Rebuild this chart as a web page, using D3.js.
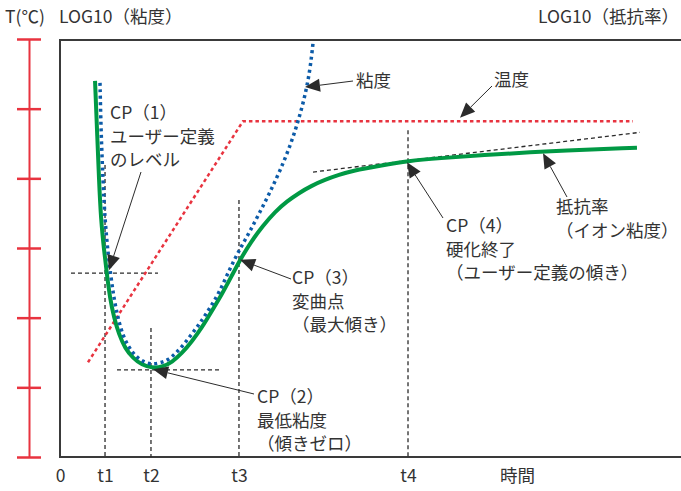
<!DOCTYPE html>
<html>
<head>
<meta charset="utf-8">
<script src="https://cdn.jsdelivr.net/npm/d3@7"></script>
<style>
  body { margin: 0; background: #fff; }
  svg { display: block; font-family: "Noto Sans CJK JP", "Noto Sans", sans-serif; }
</style>
</head>
<body>
<svg id="chart" width="681" height="491"></svg>
<script>
/* eslint-env browser */

// time axis (arbitrary units, 0..100 across the plot)
const timeTicks = [0, 7.25, 14.65, 28.82, 56.04, 73.6];
const timeLabels = ['0', 't1', 't2', 't3', 't4', '時間'];
// temperature / log scale ticks on the red axis
const levelTicks = [0, 1, 2, 3, 4, 5, 6];

// 抵抗率 (ion viscosity) - green solid
const resistT = [5.64, 5.96, 6.28, 6.6, 7.09, 7.57, 8.05, 8.7, 9.5, 10.47, 11.76, 13.2, 14.81,
  16.43, 18.04, 19.65, 21.26, 22.87, 24.48, 26.09, 27.54, 28.99, 30.76, 32.69, 34.62, 36.55,
  38.49, 40.42, 42.67, 44.93, 47.18, 51.53, 56.04, 61.19, 67.63, 78.42, 92.91];
const resistV = [5.4, 4.7, 3.98, 3.4, 2.97, 2.61, 2.28, 2.0, 1.76, 1.56, 1.42, 1.32, 1.28,
  1.29, 1.36, 1.49, 1.66, 1.86, 2.1, 2.34, 2.58, 2.83, 3.09, 3.32, 3.52, 3.67,
  3.79, 3.89, 3.98, 4.05, 4.11, 4.18, 4.25, 4.29, 4.33, 4.39, 4.44];

// 粘度 (viscosity) - blue dotted
const viscT = [6.44, 6.6, 6.92, 7.25, 7.73, 8.21, 8.7, 9.34, 10.14, 11.11, 12.24, 13.53, 14.81,
  16.1, 17.39, 18.68, 19.97, 21.26, 22.54, 24.15, 25.76, 27.38, 28.99, 30.6, 32.21, 33.82,
  35.43, 37.04, 38.33, 39.45, 40.26, 40.74];
const viscV = [5.37, 4.69, 3.97, 3.39, 2.93, 2.58, 2.27, 1.99, 1.74, 1.57, 1.44, 1.36, 1.33,
  1.35, 1.39, 1.49, 1.62, 1.77, 1.92, 2.14, 2.38, 2.71, 2.99, 3.24, 3.52, 3.8,
  4.11, 4.46, 4.81, 5.18, 5.55, 5.94];

// 温度 (temperature) - red dotted
const tempT = [4.51, 29.47, 92.27];
const tempV = [1.36, 4.82, 4.82];

// guide lines: [t0, v0, t1, v1]
const guides = [
  [1.77, 2.64, 15.78, 2.64],    // CP1 level
  [7.25, 4.19, 7.25, 0],        // t1
  [14.65, 1.85, 14.65, 0],      // t2
  [9.18, 1.25, 25.76, 1.25],    // CP2 level
  [28.82, 3.69, 28.82, 0],      // t3
  [56.04, 4.69, 56.04, 0],      // t4
  [40.74, 4.09, 93.4, 4.66]     // user-defined slope
];

// annotation texts and arrow tips (data units)
const noteTexts = [
  ['粘度'],
  ['温度'],
  ['CP（1）', 'ユーザー定義', 'のレベル'],
  ['CP（2）', '最低粘度', '（傾きゼロ）'],
  ['CP（3）', '変曲点', '（最大傾き）'],
  ['CP（4）', '硬化終了', '（ユーザー定義の傾き）'],
  ['抵抗率', '（イオン粘度）']
];
const noteTipT = [39.45, 64.41, 7.89, 14.98, 28.99, 55.88, 77.78];
const noteTipV = [5.31, 4.87, 2.68, 1.26, 2.83, 4.23, 4.36];

// label layout (pixels): text anchor and arrow tail
const noteLayout = [
  { tx: 356, ty: 87, ax: 353, ay: 81 },
  { tx: 494, ty: 86, ax: 492, ay: 86 },
  { tx: 110, ty: 119, ax: 141, ay: 172 },
  { tx: 257, ty: 403, ax: 254, ay: 394 },
  { tx: 292, ty: 284, ax: 291, ay: 279 },
  { tx: 446, ty: 232, ax: 443, ay: 218 },
  { tx: 556, ty: 213, ax: 567, ay: 197 }
];

const cs = {
  palette: {
    red: '#e8333f',
    green: '#009944',
    blue: '#0c5ba8',
    frame: '#3a3a3a',
    ink: '#2b2b2b',
    text: '#333333'
  },
  font: 17.5,
  headFont: 17.5,
  lineH: 23.5
};

const svg = d3.select('#chart');
const x = d3.scaleLinear().domain([0, 100]).range([60, 681]);
const y = d3.scaleLinear().domain([0, 6]).range([457, 39]);

const zip = (ts, vs) => ts.map((t, i) => [t, vs[i]]);
const line = d3.line().x(d => x(d[0])).y(d => y(d[1])).curve(d3.curveBasis);
const straight = d3.line().x(d => x(d[0])).y(d => y(d[1]));

// header texts
svg.append('text').attr('x', 5).attr('y', 23)
  .attr('font-size', cs.headFont).attr('fill', cs.palette.text)
  .text('T(℃)');
svg.append('text').attr('x', 59).attr('y', 23)
  .attr('font-size', cs.headFont).attr('fill', cs.palette.text)
  .text('LOG10（粘度）');
svg.append('text').attr('x', 679).attr('y', 23).attr('text-anchor', 'end')
  .attr('font-size', cs.headFont).attr('fill', cs.palette.text)
  .text('LOG10（抵抗率）');

// red temperature axis
const redAxis = svg.append('g').attr('transform', 'translate(29,0)')
  .call(d3.axisLeft(y).tickValues(levelTicks).tickSizeOuter(0).tickFormat(''));
redAxis.select('.domain').attr('stroke', cs.palette.red).attr('stroke-width', 2);
redAxis.selectAll('.tick line').attr('x1', -12).attr('x2', 12)
  .attr('stroke', cs.palette.red).attr('stroke-width', 2.5);

// frame (top, left, bottom)
svg.append('path')
  .attr('d', `M${x(100)},${y(6) + 1}H${x(0)}V${y(0)}H${x(100)}`)
  .attr('fill', 'none').attr('stroke', cs.palette.frame).attr('stroke-width', 2);

// time axis labels
const timeAxis = svg.append('g').attr('transform', `translate(0,${y(0)})`)
  .call(d3.axisBottom(x).tickValues(timeTicks).tickSize(0).tickPadding(13)
    .tickFormat((d, i) => timeLabels[i]));
timeAxis.select('.domain').remove();
timeAxis.selectAll('text').attr('font-size', cs.font).attr('fill', cs.palette.text)
  .attr('font-family', '"Noto Sans CJK JP", "Noto Sans", sans-serif');

// guide lines
svg.append('g').selectAll('path').data(guides).enter().append('path')
  .attr('d', g => straight([[g[0], g[1]], [g[2], g[3]]]))
  .attr('fill', 'none').attr('stroke', cs.palette.ink)
  .attr('stroke-width', 1.3).attr('stroke-dasharray', '4,3');

// temperature
svg.append('path').attr('d', straight(zip(tempT, tempV)))
  .attr('fill', 'none').attr('stroke', cs.palette.red)
  .attr('stroke-width', 2.5).attr('stroke-dasharray', '3.5,3');

// resistivity
svg.append('path').attr('d', line(zip(resistT, resistV)))
  .attr('fill', 'none').attr('stroke', cs.palette.green).attr('stroke-width', 4);

// viscosity
svg.append('path').attr('d', line(zip(viscT, viscV)))
  .attr('fill', 'none').attr('stroke', cs.palette.blue)
  .attr('stroke-width', 3.5).attr('stroke-dasharray', '3,3.5');

// annotations
const notes = svg.append('g');
noteTexts.forEach((lines, i) => {
  const lay = noteLayout[i];
  const tipX = x(noteTipT[i]);
  const tipY = y(noteTipV[i]);
  const dx = tipX - lay.ax;
  const dy = tipY - lay.ay;
  const len = Math.hypot(dx, dy);
  const ux = dx / len;
  const uy = dy / len;
  const headL = 15;
  const headW = 6.5;
  const bx = tipX - ux * headL;
  const by = tipY - uy * headL;
  notes.append('line')
    .attr('x1', lay.ax).attr('y1', lay.ay).attr('x2', bx).attr('y2', by)
    .attr('stroke', cs.palette.ink).attr('stroke-width', 1);
  notes.append('path')
    .attr('d', `M${tipX},${tipY}L${bx - uy * headW},${by + ux * headW}L${bx + uy * headW},${by - ux * headW}Z`)
    .attr('fill', cs.palette.ink);
  lines.forEach((s, j) => {
    notes.append('text')
      .attr('x', lay.tx).attr('y', lay.ty + j * cs.lineH)
      .attr('font-size', cs.font).attr('fill', cs.palette.text)
      .text(s);
  });
});
</script>
</body>
</html>
